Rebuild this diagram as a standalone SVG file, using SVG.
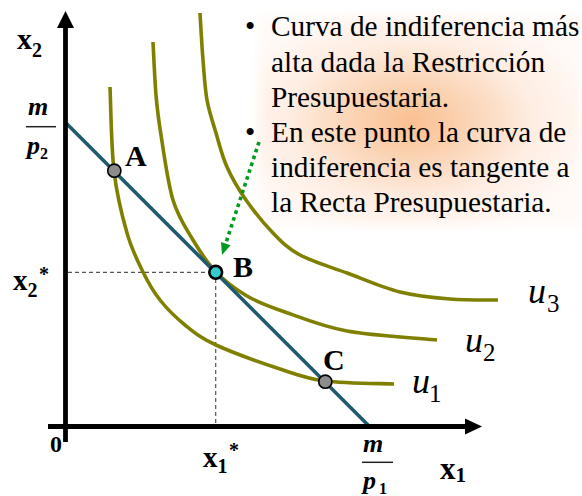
<svg xmlns="http://www.w3.org/2000/svg" width="582" height="496" viewBox="0 0 582 496" font-family="'Liberation Serif', 'Times New Roman', Times, serif">
<defs>
<radialGradient id="glow" cx="0.47" cy="0.5" r="0.58">
<stop offset="0" stop-color="#f9bf8f"/>
<stop offset="0.3" stop-color="#fbd3b3"/>
<stop offset="0.65" stop-color="#feede2"/>
<stop offset="1" stop-color="#fffaf7"/>
</radialGradient>
<filter id="soft" x="-10%" y="-10%" width="120%" height="120%">
<feGaussianBlur stdDeviation="5"/>
</filter>
</defs>
<style>
.curve{fill:none;stroke:#808000;stroke-width:3.6;stroke-linecap:butt}
.axis{stroke:#000;stroke-width:4.8;fill:none}
.dash{stroke:#555;stroke-width:1.2;stroke-dasharray:4 3;fill:none}
text{font-family:'Liberation Serif','Times New Roman',Times,serif}
.lbl{font-weight:bold;fill:#000}
.ital{font-style:italic;fill:#000}
.body{font-size:29.3px;fill:#000}
.pt{stroke:#000;stroke-width:1.6}
</style>
<rect width="582" height="496" fill="#fff"/>
<g id="note">
<rect x="258" y="16" width="324" height="210" fill="url(#glow)" filter="url(#soft)"/>
<text class="body" x="245" y="36">•</text>
<text class="body" x="271" y="36">Curva de indiferencia más</text>
<text class="body" x="271" y="71.5">alta dada la Restricción</text>
<text class="body" x="271" y="106.5">Presupuestaria.</text>
<text class="body" x="245" y="142">•</text>
<text class="body" x="271" y="142">En este punto la curva de</text>
<text class="body" x="271" y="177">indiferencia es tangente a</text>
<text class="body" x="271" y="212">la Recta Presupuestaria.</text>
</g>
<g id="guides">
<line class="dash" x1="68" y1="272.3" x2="209" y2="272.3"/>
<line class="dash" x1="215.7" y1="279" x2="215.7" y2="424"/>
</g>
<g id="curves">
<path id="u1" class="curve" d="M110,87 C110.7,101 111.2,146.7 114,171 C116.8,195.3 122.2,216.2 127,233 C131.8,249.8 137.5,260.8 143,272 C148.5,283.2 153,291.2 160,300 C167,308.8 175.7,317.5 185,325 C194.3,332.5 200.2,337.7 216,345 C231.8,352.3 261.8,363 280,369 C298.2,375 306,378.5 325,381 C344,383.5 382.5,383.5 394,384"/>
<path id="u2" class="curve" d="M153,42 C153.5,50.8 154.7,79.5 156,95 C157.3,110.5 158.2,117.5 161,135 C163.8,152.5 167.7,182.5 173,200 C178.3,217.5 185.8,228 193,240 C200.2,252 207,262.7 216,272 C225,281.3 235.5,289.3 247,296 C258.5,302.7 268.3,306.2 285,312 C301.7,317.8 321.7,326.3 347,331 C372.3,335.7 422,338.5 437,340"/>
<path id="u3" class="curve" d="M200,13 C200.5,20.8 201.8,45.5 203,60 C204.2,74.5 204.8,87.8 207,100 C209.2,112.2 212.7,121.8 216,133 C219.3,144.2 222,155.8 227,167 C232,178.2 238.3,189 246,200 C253.7,211 264,223.8 273,233 C282,242.2 287.7,248.3 300,255 C312.3,261.7 330.3,266.8 347,273 C363.7,279.2 382.8,287.7 400,292 C417.2,296.3 433.7,297.7 450,299 C466.3,300.3 490,299.8 498,300"/>
</g>
<g id="curve-labels">
<text class="ital" x="528" y="302.5" font-size="36">u</text><text x="547" y="311.5" font-size="25">3</text>
<text class="ital" x="465" y="351.5" font-size="36">u</text><text x="483" y="360.5" font-size="25">2</text>
<text class="ital" x="412" y="393" font-size="36">u</text><text x="429" y="402" font-size="25">1</text>
</g>
<g id="connectors">
<line id="budget" x1="66" y1="123" x2="369" y2="426" stroke="#205a6e" stroke-width="3.6"/>
<line id="hint" x1="259" y1="142" x2="225.7" y2="243.6" stroke="#009a1e" stroke-width="3.6" stroke-dasharray="3.6 3.6"/>
<polygon points="222,255 230.5,245.2 221,242" fill="#009a1e"/>
</g>
<g id="axes">
<line class="axis" x1="65.5" y1="26" x2="65.5" y2="442"/>
<polygon points="57,28 65.5,11 74,28" fill="#000"/>
<line class="axis" x1="48" y1="426.5" x2="467" y2="426.5"/>
<polygon points="465,418.5 482,426.5 465,434.5" fill="#000"/>
<text class="lbl" x="50" y="452" font-size="24">0</text>
<text class="lbl" x="17" y="49" font-size="30">x<tspan font-size="20" dy="8">2</tspan></text>
<text class="lbl" x="440" y="479" font-size="31">x<tspan font-size="21" dy="3">1</tspan></text>
<text class="lbl" x="13" y="290" font-size="29">x<tspan font-size="20" dy="7">2</tspan></text>
<text class="lbl" x="39" y="281" font-size="20">*</text>
<text class="lbl" x="203" y="467" font-size="29">x<tspan font-size="20" dy="6">1</tspan></text>
<text class="lbl" x="229" y="457" font-size="20">*</text>
<g id="intercept-y">
<text class="lbl" font-style="italic" x="28" y="115" font-size="26">m</text>
<line x1="26" y1="126.7" x2="56" y2="126.7" stroke="#222" stroke-width="1.5"/>
<text class="lbl" font-style="italic" x="27" y="154" font-size="26">p<tspan font-style="normal" font-size="16" dy="5">2</tspan></text>
</g>
<g id="intercept-x">
<text class="lbl" font-style="italic" x="363" y="452" font-size="26">m</text>
<line x1="362" y1="462.3" x2="393" y2="462.3" stroke="#222" stroke-width="1.5"/>
<text class="lbl" font-style="italic" x="363" y="489" font-size="26">p<tspan font-style="normal" font-size="16" dx="3" dy="5">1</tspan></text>
</g>
</g>
<g id="A">
<circle class="pt" cx="114.3" cy="170.7" r="6.6" fill="#8c8c8c"/>
<text class="lbl" x="125" y="166" font-size="30">A</text>
</g>
<g id="B">
<circle cx="215.7" cy="272.3" r="6.4" fill="#33cccc" stroke="#000" stroke-width="2.6"/>
<text class="lbl" x="233" y="277" font-size="30">B</text>
</g>
<g id="C">
<circle class="pt" cx="325.3" cy="381.7" r="6.6" fill="#8c8c8c"/>
<text class="lbl" x="323" y="370" font-size="30">C</text>
</g>
</svg>
